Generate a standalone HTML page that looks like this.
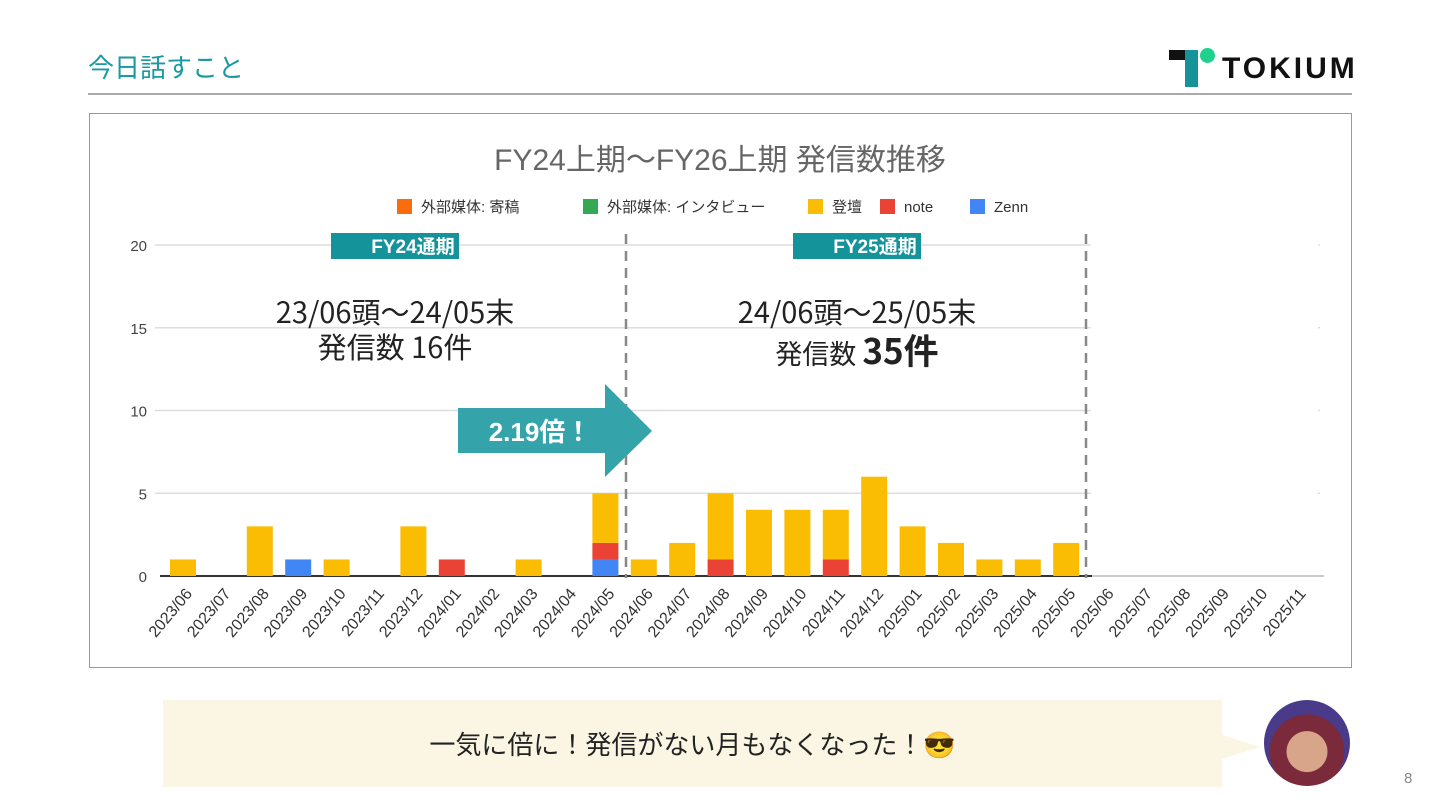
<!DOCTYPE html>
<html><head><meta charset="utf-8">
<style>
body{margin:0;width:1440px;height:810px;background:#fff;position:relative;overflow:hidden;font-family:"Liberation Sans","Noto Sans CJK JP",sans-serif}
.abs{position:absolute}
</style></head>
<body>
<div class="abs" style="left:88px;top:50px;font-size:26px;color:#1a9aa0;font-family:'Noto Sans CJK JP',sans-serif;line-height:34px">今日話すこと</div>
<div class="abs" style="left:88px;top:93px;width:1264px;height:2px;background:#aaa"></div>
<div class="abs" style="left:1169px;top:48px;width:190px;height:40px">
  <div class="abs" style="left:0;top:2px;width:24px;height:10px;background:#111"></div>
  <div class="abs" style="left:16px;top:2px;width:13px;height:37px;background:#14939a"></div>
  <div class="abs" style="left:31px;top:0;width:15px;height:15px;border-radius:50%;background:#1fd08e"></div>
  <div class="abs" style="left:53px;top:5px;font-size:30px;font-weight:bold;color:#111;letter-spacing:3px;line-height:32px">TOKIUM</div>
</div>
<div class="abs" style="left:89px;top:113px;width:1261px;height:553px;border:1px solid #999"></div>
<svg class="abs" style="left:0;top:0" width="1440" height="810" id="chart"></svg>
<div class="abs" style="left:163px;top:700px;width:1059px;height:87px;background:#fbf6e4"></div>
<div class="abs" style="left:1222px;top:735px;width:0;height:0;border-top:12px solid transparent;border-bottom:12px solid transparent;border-left:38px solid #fbf6e4"></div>
<div class="abs" style="left:163px;top:726px;width:1059px;text-align:center;font-size:26px;color:#222;font-family:'Noto Sans CJK JP',sans-serif;line-height:36px">一気に倍に！発信がない月もなくなった！😎</div>
<div class="abs" style="left:1264px;top:700px;width:86px;height:86px;border-radius:50%;background:radial-gradient(circle at 50% 60%,#d9a58a 0 30%,#7a2a3a 31% 55%,#4a3a8a 56%)"></div>
<div class="abs" style="left:1404px;top:770px;font-size:15px;color:#888">8</div>
<script>
const categories=["2023/06","2023/07","2023/08","2023/09","2023/10","2023/11","2023/12","2024/01","2024/02","2024/03","2024/04","2024/05","2024/06","2024/07","2024/08","2024/09","2024/10","2024/11","2024/12","2025/01","2025/02","2025/03","2025/04","2025/05","2025/06","2025/07","2025/08","2025/09","2025/10","2025/11"];
const zenn=[0,0,0,1,0,0,0,0,0,0,0,1,0,0,0,0,0,0,0,0,0,0,0,0,0,0,0,0,0,0];
const note=[0,0,0,0,0,0,0,1,0,0,0,1,0,0,1,0,0,1,0,0,0,0,0,0,0,0,0,0,0,0];
const touban=[1,0,3,0,1,0,3,0,0,1,0,3,1,2,4,4,4,3,6,3,2,1,1,2,0,0,0,0,0,0];
const yTicks=[0,5,10,15,20];
const legendLabels=["外部媒体: 寄稿","外部媒体: インタビュー","登壇","note","Zenn"];
const legendColors=["#fa6d0f","#34a853","#fbbc04","#ea4335","#4285f4"];
const svg=document.getElementById('chart');const NS="http://www.w3.org/2000/svg";
function el(t,a,p){const e=document.createElementNS(NS,t);for(const k in a)e.setAttribute(k,a[k]);(p||svg).appendChild(e);return e;}
const y=v=>576-v*16.55;const x=i=>183+i*38.4;const bw=26;
const F="Liberation Sans, Noto Sans CJK JP, sans-serif";
const FJ="Noto Sans CJK JP, sans-serif";
let t=el('text',{x:720,y:170,'text-anchor':'middle','font-size':30,fill:'#666','font-family':F});t.textContent="FY24上期～FY26上期 発信数推移";


const lx=[397,583,808,880,970];
legendLabels.forEach((l,i)=>{
 const g=el('g',{});
 
 
 el('rect',{x:lx[i],y:199,width:15,height:15,fill:legendColors[i]},g);
 const tt=el('text',{x:lx[i]+24,y:212,'font-size':15,fill:'#333','font-family':F},g);tt.textContent=l;
});
yTicks.forEach(v=>{
 if(v>0){const gl=el('line',{x1:155,x2:1320,y1:y(v),y2:y(v),stroke:'#ddd','stroke-width':1.5});
 
 }
 const tx=el('text',{x:147,y:y(v)+6,'text-anchor':'end','font-size':15,fill:'#444','font-family':F});tx.textContent=v;
 
 
});
el('rect',{x:1091,y:230,width:227,height:344,fill:'#fff'});
const ax=el('line',{x1:160,x2:1092,y1:576,y2:576,stroke:'#333','stroke-width':2});


el('line',{x1:1092,x2:1324,y1:576,y2:576,stroke:'#bbb','stroke-width':1.5});
categories.forEach((c,i)=>{
 const stack=[[zenn[i],'#4285f4','bar-zenn'],[note[i],'#ea4335','bar-note'],[touban[i],'#fbbc04','bar-touban']];
 let base=0;
 stack.forEach(([v,col,n])=>{if(v>0){const r=el('rect',{x:x(i)-bw/2,y:y(base+v),width:bw,height:y(base)-y(base+v),fill:col});
 
 
 base+=v;}});
 const lb=el('text',{x:x(i)+10,y:594,'text-anchor':'end','font-size':16,fill:'#333','font-family':F,transform:`rotate(-50 ${x(i)+10} 594)`});lb.textContent=c;
 
 
});
[626,1086].forEach(xx=>{const d=el('line',{x1:xx,x2:xx,y1:234,y2:578,stroke:'#888','stroke-width':2.5,'stroke-dasharray':'10,7'});

});
function badge(xx,txt,n){const g=el('g',{});
 el('rect',{x:xx,y:233,width:128,height:26,fill:'#14939a'},g);
 const b=el('text',{x:xx+82,y:253,'text-anchor':'middle','font-size':19,'font-weight':'bold',fill:'#fff','font-family':F},g);b.textContent=txt;}
badge(331,"FY24通期","badge-fy24");badge(793,"FY25通期","badge-fy25");
function lbl(xx,yy,txt,sz,w){const e=el('text',{x:xx,y:yy,'text-anchor':'middle','font-size':sz,fill:'#222','font-family':FJ,'font-weight':w||'normal'});e.textContent=txt;return e;}
lbl(395,323,"23/06頭～24/05末",29);lbl(395,358,"発信数 16件",29);
lbl(857,323,"24/06頭～25/05末",29);
const t2=el('text',{x:857,y:364,'text-anchor':'middle','font-family':FJ,fill:'#222'});
const s1=el('tspan',{'font-size':27},t2);s1.textContent="発信数 ";const s2=el('tspan',{'font-size':35,'font-weight':'bold'},t2);s2.textContent="35件";
const ar=el('polygon',{points:'458,408 605,408 605,384 652,431 605,477 605,453 458,453',fill:'#35a3aa'});


const at=el('text',{x:540,y:441,'text-anchor':'middle','font-size':26,'font-weight':'bold',fill:'#fff','font-family':F});at.textContent="2.19倍！";
</script>
</body></html>
